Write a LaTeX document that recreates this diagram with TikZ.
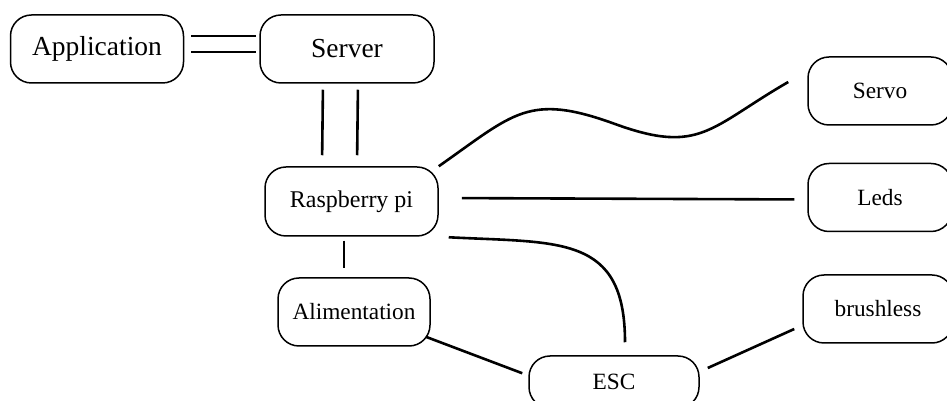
\documentclass[tikz,border=0pt]{standalone}
\usepackage{fontspec}
\setmainfont{Liberation Serif}
\usetikzlibrary{positioning, calc}
\tikzset{
    every node/.style={inner sep=0pt}, % Sizes are given by the boxes
    box/.style={ % Sets the properties for each block
        draw,
        line width=1.5pt,
        rounded corners=21pt,
        minimum height=68pt,
        font=\fontsize{23.3}{26}\selectfont
    },
    bigbox/.style={ % The two blocks of the first row
        box,
        font=\fontsize{27.5}{30}\selectfont
    },
    every edge/.style={ % Sets the properties for each link
        draw,
        line width=2.6pt
    },
}

\begin{document}
\begin{tikzpicture}[x=1pt, y=1pt]
            \useasboundingbox (0,0) rectangle (947,401);
            \node[bigbox, minimum width=173pt] (app) at (97,352) {Application};
            \node[bigbox, minimum width=174pt, right=75pt of app] (srv) {Server};
            \node[box, minimum width=173pt, minimum height=69pt,
                  font=\fontsize{24}{26}\selectfont] (rpi) at (351.5,199.5) {Raspberry pi};
            \node[box, minimum width=144pt] (servo) at (880,310) {Servo};
            \node[box, minimum width=144pt, below=37pt of servo] (leds) {Leds};
            \node[box, minimum width=150pt] (brush) at (878,92) {brushless};
            \node[box, minimum width=152pt] (alim) at (354,89) {Alimentation};
            \node[box, minimum width=170pt, minimum height=52pt] (esc) at (614,19) {ESC};
            \coordinate (wave) at (615,277);
            \coordinate (servoend) at ([xshift=-19pt,yshift=9pt]servo.west);
            \draw   ([yshift=13pt]app.east)    edge[shorten <=7pt, shorten >=3pt]    ([yshift=13pt]srv.west)
                    ([yshift=-3pt]app.east)    edge[shorten <=7pt, shorten >=3pt]    ([yshift=-3pt]srv.west)
                    ([xshift=-24pt]srv.south)  edge[shorten <=6pt, shorten >=11pt]   ([xshift=-29.5pt]rpi.north)
                    ([xshift=11pt]srv.south)   edge[shorten <=6pt, shorten >=11pt]   ([xshift=5.5pt]rpi.north)
                    ([yshift=3.5pt]rpi.east)   edge[shorten <=23pt, shorten >=13pt]  ([yshift=-2pt]leds.west)
                    (rpi.south east)           edge[out=-3, in=90, looseness=1.4,
                                                    shorten <=10pt, shorten >=13pt]  ([xshift=11pt]esc.north)
                    ([xshift=-7.5pt]rpi.south) edge[shorten <=4pt, shorten >=9pt]    ([xshift=-10pt]alim.north)
                    ([xshift=-5pt,yshift=10pt]alim.south east) edge                  ([xshift=-6pt,yshift=-18pt]esc.north west)
                    ([xshift=8pt,yshift=14pt]esc.east)         edge                  ([xshift=-8pt,yshift=-20pt]brush.west)
            ;
            % wavy link to the servo
            \draw[line width=2.6pt]
                    (rpi.north east) to[out=35, in=160, looseness=1.3] (wave)
                                     to[out=-20, in=210, looseness=1.3] (servoend);
\end{tikzpicture}
\end{document}
